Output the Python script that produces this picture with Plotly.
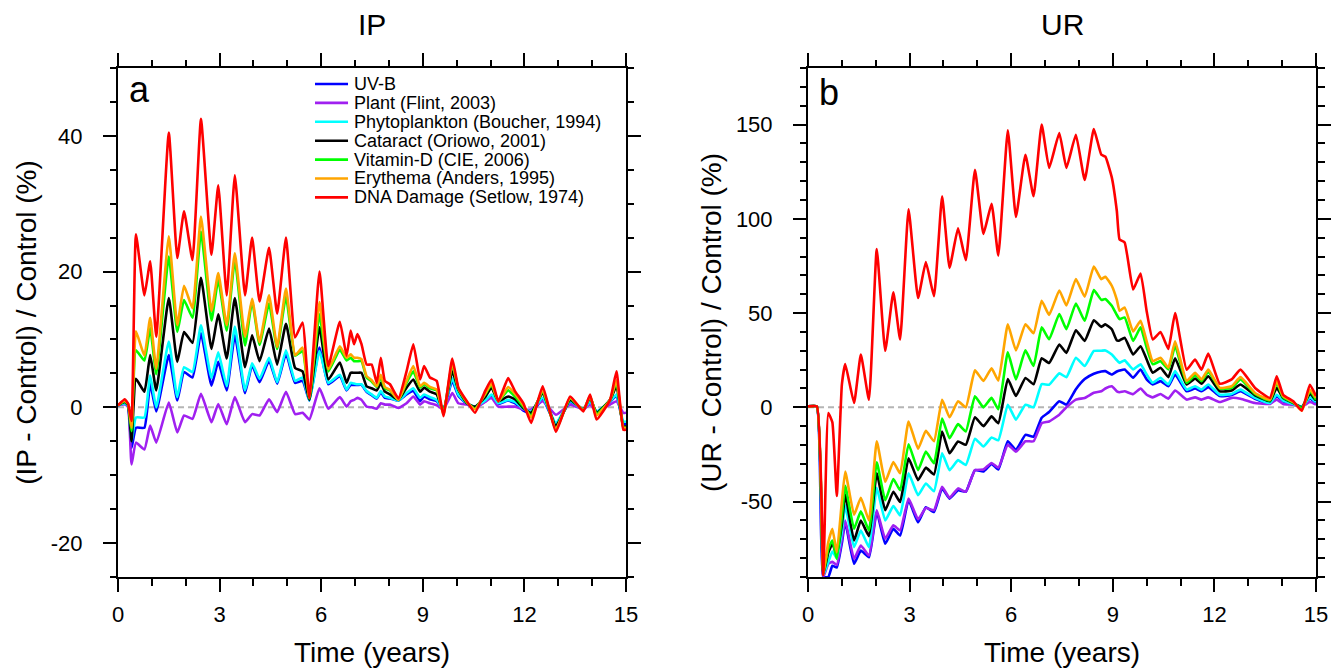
import plotly.graph_objects as go

# ---------------- data: panel a (IP) ----------------
t_ip = [0, 0.2, 0.3, 0.4, 0.53, 0.78, 0.95, 1.13, 1.5, 1.75, 1.95, 2.2, 2.45, 2.76, 2.96,
        3.21, 3.45, 3.75, 3.96, 4.18, 4.46, 4.7, 4.96, 5.23, 5.45, 5.65, 5.95, 6.21, 6.55, 6.75,
        6.87, 6.97, 7.07, 7.19, 7.34, 7.49, 7.64, 7.76, 7.88, 8.03, 8.28, 8.52, 8.72, 8.92, 9.04,
        9.21, 9.41, 9.61, 9.87, 10.05, 10.3, 10.54, 10.84, 11.03, 11.23, 11.52, 11.72, 11.97, 12.2, 12.54,
        12.93, 13.35, 13.74, 13.94, 14.13, 14.53, 14.72, 14.92, 15.0]

ip_uvb = [0.3, 0.5, 0.1, -6, -3, -3, 3.5, -0.6, 7.7, 1, 5.2, 4.4, 10.9, 3.2, 6.7,
          2.5, 10.6, 2.1, 6.2, 3.7, 6.9, 3.5, 7.9, 3.6, 3.9, 1, 8.8, 3.4, 4.6, 2.5,
          3.3, 3.3, 3.3, 3.3, 2.3, 1.8, 1.3, 2.2, 1.4, 1.3, 1, 1.9, 2.4, 0.9, 1.6,
          1.2, 0.9, -0.3, 3.9, 1.7, 0.5, 0, 0.9, 1.7, 0.5, 1, 0.6, -0.5, -0.9, 1.2,
          -2.5, 0.8, -0.3, 0.8, -0.7, 0.8, 1.7, -2.4, -2.4]
ip_plant = [0.3, 0.5, 0, -8.4, -5.2, -6.2, -2.7, -5.2, 0.7, -3.7, -1.2, -1.7, 2, -2.2, 0.5,
            -2.5, 1.5, -2.2, -1, -1.2, 1.2, -0.7, 2.3, -1, -0.8, -1.8, 2.8, -0.2, 1.5, 0.1,
            0.9, 1.1, 1.4, 1.1, 0.1, 0, -0.2, 0.6, 0.4, 0.4, -0.1, 0.6, 1.6, 0.4, 0.9,
            0.6, 0.3, -0.3, 2.1, 0.6, 0.4, -0.1, 0.8, 1.4, 0.1, 0.1, 0.1, -0.3, -0.3, 0.9,
            -1.1, 0.4, -0.3, 0.4, -0.6, 0.4, 0.9, -0.8, -0.8]
ip_phyto = [0.3, 0.6, 0.2, -5, -1.5, -1.5, 4.7, 0, 9.7, 1.5, 5.9, 5.2, 12.1, 4.3, 8.1,
            3.1, 11.9, 2.5, 6.5, 4.2, 7.3, 3.7, 8.4, 3.9, 4.4, 1, 8.3, 3.6, 4.8, 2.6,
            3.6, 3.5, 3.4, 3.4, 2.4, 1.9, 1.4, 2.4, 1.6, 1.4, 1, 2.1, 2.8, 1.4, 1.9,
            1.5, 1.1, -0.3, 4.3, 1.9, 0.6, 0.1, 1, 1.9, 0.6, 1.1, 0.8, -0.2, -0.6, 1.4,
            -2.3, 0.9, -0.3, 0.9, -0.6, 0.9, 1.9, -2.1, -2.1]
ip_cataract = [0.3, 0.8, 0.3, -5, 4.2, 2.3, 7.7, 2.5, 16.1, 6.7, 11.1, 9.5, 19.1, 8.6, 13.7,
               7.2, 16.1, 5.9, 10.6, 6.8, 11.6, 6.3, 12.3, 5.8, 5.3, 1.1, 11.8, 4.1, 6.6, 3.6,
               5.1, 5.1, 5.1, 5.1, 3.1, 2.8, 2.5, 3.6, 2.3, 1.9, 1.1, 2.9, 4.1, 2.3, 2.9,
               2.3, 1.9, -0.6, 5.3, 2.6, 0.6, 0.1, 1.5, 2.9, 0.9, 1.6, 1.2, -0.1, -0.8, 2.1,
               -2.8, 1.1, -0.3, 1.4, -0.8, 1.1, 3.1, -2.8, -2.8]
ip_vitd = [0.3, 0.9, 0.4, -3.5, 8.4, 6.9, 11.7, 4.9, 22.2, 11.1, 15.8, 13.2, 25.9, 12.8, 18.8,
           11.3, 21.7, 9.1, 15.6, 9.2, 15.3, 8.6, 16.3, 7.6, 8.3, 1.3, 13.7, 5.3, 8.5, 6.9,
           7.3, 6.8, 6.8, 6.8, 4.4, 3.8, 3, 4.4, 2.8, 2.5, 1.1, 3.6, 5.3, 2.9, 3.4,
           2.8, 2.5, -0.8, 6.3, 2.7, 0.7, -0.2, 1.9, 3.3, 0.9, 2.5, 1.6, 0.1, -1.2, 2.4,
           -3.3, 1.3, -0.4, 1.6, -1, 1.1, 3.7, -3, -3]
ip_eryth = [0.3, 1, 0.5, -3, 11.2, 7.6, 13.2, 5.7, 25.2, 12.1, 17.9, 14.6, 28.1, 14.2, 19.8,
            12.1, 22.7, 10.4, 16, 9.6, 16.5, 8.9, 17.5, 7.7, 8.8, 1.4, 15.5, 5.6, 9, 7.3,
            7.8, 7.3, 7.3, 7.1, 4.6, 4, 3.1, 4.8, 3, 2.6, 1.1, 3.9, 6.1, 3.1, 3.6,
            3, 2.6, -1.1, 6.6, 2.8, 0.8, -0.3, 2, 3.5, 0.9, 3, 2, 0.3, -1.5, 2.6,
            -3.2, 1.4, -0.5, 1.7, -1.2, 1.1, 4, -3, -3]
ip_dna = [0.3, 1.2, 0.5, -2, 25.5, 16.5, 21.5, 10.4, 40.5, 22, 28.9, 21.7, 42.5, 22.5, 32.7,
          16.5, 34.2, 16.5, 25, 15.6, 23.5, 13.8, 25, 10.3, 12.5, 1.4, 20, 6.1, 12.6, 7.6,
          11.3, 9.3, 10.8, 9.3, 6.3, 6.3, 3.6, 7.3, 3.9, 3.4, 1.3, 5.3, 9.3, 4.1, 6.1,
          4.4, 3.9, -1.3, 7.2, 2.9, 0.9, -0.8, 2.4, 4.1, 0.9, 4.3, 2.4, 0.6, -2.3, 3.1,
          -3.6, 1.6, -0.6, 1.9, -1.8, 1.1, 5.3, -3.3, -3.3]

# ---------------- data: panel b (UR) ----------------
t_ur = [0, 0.26, 0.45, 0.6, 0.72, 0.85, 1.0, 1.1, 1.36, 1.56, 1.8, 2.03, 2.28, 2.52, 2.72,
        2.97, 3.25, 3.48, 3.72, 3.96, 4.18, 4.43, 4.66, 4.93, 5.18, 5.42, 5.62, 5.9, 6.14, 6.42,
        6.66, 6.9, 7.12, 7.42, 7.63, 7.91, 8.17, 8.44, 8.66, 8.78, 8.97, 9.12, 9.2, 9.35, 9.6,
        9.82, 10.0, 10.18, 10.41, 10.64, 10.84, 11.18, 11.43, 11.62, 11.82, 12.16, 12.51, 12.77, 13.2, 13.64,
        13.84, 14.03, 14.33, 14.58, 14.82, 15.0]

ur_uvb = [0.5, 0.5, -90, -90, -84, -85, -72, -61, -83, -76, -79.5, -55.5, -72.4, -64.4, -68,
          -49.3, -61, -53, -55.5, -43, -48.4, -44, -44.8, -33.3, -34, -30, -33, -18, -22.6, -14.6,
          -15.6, -5.5, -2.5, 3.2, 1.4, 9.6, 15, 17.8, 19, 19.2, 17.4, 19, 19.5, 20.1, 15.7,
          20.1, 14.8, 12.1, 13.9, 11.2, 17.4, 8.5, 10, 8.5, 10.7, 6, 6.5, 8.5, 4.5, 2,
          5.8, 3.2, 1.4, 0.4, 4.6, 2.3]
ur_plant = [0.5, 0.5, -90, -83, -82, -83.6, -70, -60, -80.4, -73.3, -78.6, -54.6, -69.7, -62.6, -65.3,
            -48.4, -59.4, -53.4, -54.6, -42.1, -48, -43, -44.8, -33.3, -33, -29.5, -32, -19.8, -23.5, -18,
            -18, -8.4, -7.5, -3.9, 0, 4.1, 5, 7.7, 8.5, 10, 11.2, 8.5, 8, 8.5, 7,
            10, 6.7, 5.3, 7.1, 4.6, 8.9, 4.1, 5.3, 4.1, 5.3, 2.8, 5, 4.6, 2.3, 1.8,
            4.1, 1.8, 1.4, 0.4, 2.8, 1.4]
ur_phyto = [0.5, 0.5, -89, -82, -76.5, -80, -66, -52, -74.2, -65.3, -74.2, -42.7, -60, -52.3, -57.3,
            -35, -46.6, -40.4, -44.5, -24.4, -33.3, -28, -30.6, -16.7, -20.8, -16, -17.5, 1.4, -6.5, 1.4,
            0, 12.3, 12, 18, 16, 26.3, 21.9, 29.9, 30, 30.2, 28, 25, 23.6, 24.9, 20.1,
            22.8, 17.4, 13, 15.7, 12.1, 19.2, 9.4, 11.2, 9.4, 12.1, 6.7, 7.1, 9.4, 5, 2.3,
            6.7, 3.6, 1.8, 0.4, 5.3, 2.8]
ur_cataract = [0.5, 0.5, -88.5, -77, -72.4, -78.3, -62, -46.3, -70.6, -60, -68.3, -35, -54.6, -44.8, -50.2,
               -27, -38.6, -32, -35.6, -12.8, -24.4, -18.1, -19.9, -5.3, -10, -4.8, -8.4, 15, 6, 15.6,
               12.2, 26, 23.5, 33.3, 28.9, 40.9, 35.2, 46.2, 42.7, 44, 41.4, 35.5, 35.5, 36.9, 28,
               32.4, 25.4, 18.3, 21, 16, 26, 12.1, 15.3, 12.5, 16.5, 8.5, 8.9, 12.1, 6.4, 3.2,
               10.3, 5, 2.3, 0, 7.1, 3.6]
ur_vitd = [0.5, 0.5, -88, -75, -70.6, -80.4, -58, -41.6, -64.4, -55.2, -65.3, -29.2, -49.3, -38, -44,
           -19.6, -33.3, -23.5, -29.7, -6, -16.4, -8.9, -12.8, 5.9, 0, 5, -1, 29.2, 14.8, 30.2,
           21.9, 42.4, 36.1, 49.5, 41.5, 55.1, 45.9, 62.2, 57, 57.5, 53.9, 49, 46.8, 47.7, 35.2,
           42.4, 31.7, 22.8, 24.5, 20.1, 32.5, 13, 17.1, 13.9, 18.9, 10, 10.3, 14.8, 7.1, 3.6,
           13, 5.3, 2.5, -0.4, 8.5, 4]
ur_eryth = [0.5, 0.5, -88, -71.5, -64.4, -77, -50, -34, -57, -48, -60, -18, -39.5, -29, -35,
            -7.5, -22, -12.5, -18, 4, -5.3, 3.2, 0, 19.6, 14, 20.7, 14.2, 44, 30.2, 44,
            39.3, 56.5, 49, 62, 54, 68, 58.7, 74.7, 68, 69.3, 64.5, 57, 51.2, 53, 40.2,
            45.9, 35, 24.5, 26.3, 21, 35, 14, 18.3, 14.8, 20, 10.3, 11.2, 16, 7.6, 4.1,
            13.9, 5.9, 2.8, -1.8, 9.4, 5]
ur_dna = [0.5, 0.5, -89, -3, -8, -47, 12, 23, 2.3, 28, 4, 84, 30, 61, 36,
          105, 58, 77, 59, 112, 74, 95, 78, 126, 92, 108, 80.5, 147, 101, 134,
          112, 150, 127, 145.5, 127, 144.6, 120.6, 147.6, 134, 133, 122, 104, 89, 87.5, 62.5,
          71, 51, 36, 40, 31, 50, 20, 25.4, 20, 28.5, 12.5, 14.8, 20, 10.3, 5,
          16.5, 6.7, 3.2, -1.8, 12, 6]

names = ["UV-B", "Plant (Flint, 2003)", "Phytoplankton (Boucher, 1994)", "Cataract (Oriowo, 2001)",
         "Vitamin-D (CIE, 2006)", "Erythema (Anders, 1995)", "DNA Damage (Setlow, 1974)"]
colors = ["#0000ff", "#a020f0", "#00ffff", "#000000", "#00ff00", "#ffa500", "#ff0000"]

ip_series = [ip_uvb, ip_plant, ip_phyto, ip_cataract, ip_vitd, ip_eryth, ip_dna]
ur_series = [ur_uvb, ur_plant, ur_phyto, ur_cataract, ur_vitd, ur_eryth, ur_dna]

FONT = "Liberation Sans, Arial, Helvetica, sans-serif"
LW = 2.6

fig = go.Figure()

for name, col, ys in zip(names, colors, ip_series):
    fig.add_trace(go.Scatter(x=t_ip, y=ys, mode="lines", name=name, showlegend=False,
                             line=dict(color=col, width=LW, shape="spline", smoothing=0.4),
                             xaxis="x", yaxis="y"))
for name, col, ys in zip(names, colors, ur_series):
    fig.add_trace(go.Scatter(x=t_ur, y=ys, mode="lines", name=name, showlegend=False,
                             line=dict(color=col, width=LW, shape="spline", smoothing=0.4),
                             xaxis="x2", yaxis="y2"))

axis_common = dict(showline=True, linewidth=2, linecolor="black", mirror="ticks",
                   ticks="outside", ticklen=13, tickwidth=2, tickcolor="black",
                   showgrid=False, zeroline=False, automargin=False,
                   tickfont=dict(family=FONT, size=22, color="black"))
minor_common = dict(ticks="outside", ticklen=6.5, tickwidth=1.5, tickcolor="black", showgrid=False)

L_DOM = [0, 0.42404]
R_DOM = [0.57596, 1]

# the page body adds an 8px offset, so the figure is 8px smaller than the window
fig.update_layout(
    template="none",
    width=1332, height=661,
    margin=dict(l=110, r=24, t=60, b=92),
    paper_bgcolor="white", plot_bgcolor="white",
    font=dict(family=FONT, color="black"),
    xaxis=dict(axis_common, domain=L_DOM, anchor="y", range=[0, 15], tick0=0, dtick=3,
               minor=dict(minor_common, dtick=1, tick0=0), ticklabelstandoff=4,
               title=dict(text="Time (years)", font=dict(family=FONT, size=28), standoff=16)),
    yaxis=dict(axis_common, domain=[0, 1], anchor="x", range=[-25, 50], tick0=0, dtick=20,
               minor=dict(minor_common, dtick=5, tick0=0), ticklabelstandoff=16,
               labelalias={"\u221220": "-20"},
               title=dict(text="(IP - Control) / Control (%)", font=dict(family=FONT, size=28), standoff=6)),
    xaxis2=dict(axis_common, domain=R_DOM, anchor="y2", range=[0, 15], tick0=0, dtick=3,
                minor=dict(minor_common, dtick=1, tick0=0), ticklabelstandoff=4,
                title=dict(text="Time (years)", font=dict(family=FONT, size=28), standoff=16)),
    yaxis2=dict(axis_common, domain=[0, 1], anchor="x2", range=[-90, 180], tick0=0, dtick=50,
                minor=dict(minor_common, dtick=10, tick0=0), ticklabelstandoff=16,
                labelalias={"\u221250": "-50"},
                title=dict(text="(UR - Control) / Control (%)", font=dict(family=FONT, size=28), standoff=6)),
)

# zero reference lines
for xr, yr in (("x", "y"), ("x2", "y2")):
    fig.add_shape(type="line", xref=xr + " domain", yref=yr, x0=0, x1=1, y0=0, y1=0,
                  line=dict(color="#b5b5b5", width=2, dash="6px,4px"), layer="below")

# panel titles and letters
fig.add_annotation(text="IP", xref="x domain", yref="y domain", x=0.5, y=1.0, yshift=44,
                   showarrow=False, font=dict(family=FONT, size=30), yanchor="middle")
fig.add_annotation(text="UR", xref="x2 domain", yref="y2 domain", x=0.5, y=1.0, yshift=44,
                   showarrow=False, font=dict(family=FONT, size=30), yanchor="middle")
fig.add_annotation(text="a", xref="x domain", yref="y domain", x=0.018, y=0.958,
                   showarrow=False, font=dict(family=FONT, size=36), xanchor="left", yanchor="middle")
fig.add_annotation(text="b", xref="x2 domain", yref="y2 domain", x=0.018, y=0.952,
                   showarrow=False, font=dict(family=FONT, size=36), xanchor="left", yanchor="middle")

# legend drawn inside panel a
row_top = 0.9686   # domain fraction of first row
row_gap = 0.03713
for i, (name, col) in enumerate(zip(names, colors)):
    yy = row_top - i * row_gap
    fig.add_shape(type="line", xref="x domain", yref="y domain", x0=0.3878, x1=0.4528,
                  y0=yy, y1=yy, line=dict(color=col, width=LW))
    fig.add_annotation(text=name, xref="x domain", yref="y domain", x=0.4606, y=yy,
                       showarrow=False, xanchor="left", yanchor="middle",
                       font=dict(family=FONT, size=18, color="black"))

fig.write_html("out.html")
